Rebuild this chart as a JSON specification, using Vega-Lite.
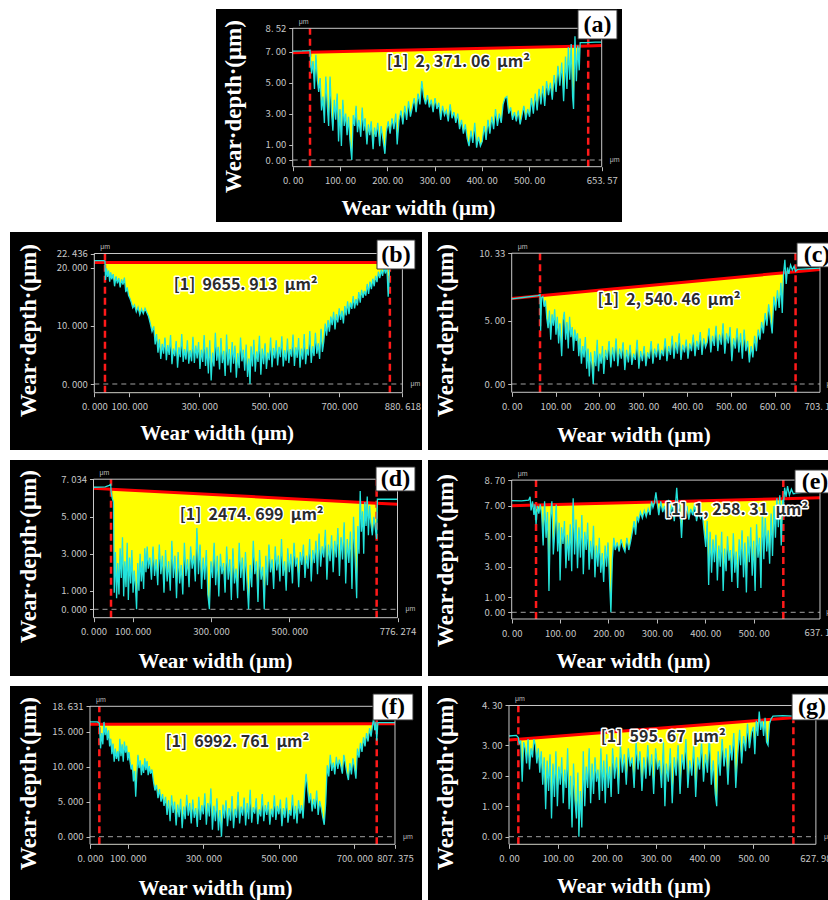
{
"$schema": "https://vega.github.io/schema/vega-lite/v6.json",
"background": "white",
"padding": {"left": 10, "top": 9, "right": 0, "bottom": 0},
"spacing": 10,
"config": {
  "view": {"stroke": null},
  "axis": {"grid": false, "domain": false, "labelColor": "#c8c8c8", "labelFont": "Noto Sans CJK SC", "labelFontSize": 9.5, "labelOverlap": false, "tickColor": "#bdbdbd", "tickSize": 4, "tickWidth": 1, "titleColor": "white", "titleFont": "Liberation Serif", "titleFontWeight": "bold", "titleFontSize": 21, "titleAlign": "center", "titleBaseline": "middle"},
  "axisY": {"labelPadding": 3, "titleAngle": 270, "titleFontSize": 23},
  "axisX": {"labelPadding": 5}
},
"datasets": {
"ra": [{"x":0,"y":6.94,"in":false},{"x":36.6,"y":6.966,"in":true},{"x":625,"y":7.38,"in":true},{"x":653.57,"y":7.4,"in":false}],
"rb": [{"x":0,"y":20.88,"in":false},{"x":30.5,"y":20.88,"in":true},{"x":844.8,"y":20.88,"in":true},{"x":880.618,"y":20.88,"in":false}],
"rc": [{"x":0,"y":6.76,"in":false},{"x":64.6,"y":6.97,"in":true},{"x":647.4,"y":8.869,"in":true},{"x":703.1,"y":9.05,"in":false}],
"rd": [{"x":0,"y":6.54,"in":false},{"x":44.7,"y":6.49,"in":true},{"x":723,"y":5.739,"in":true},{"x":776.274,"y":5.68,"in":false}],
"re": [{"x":0,"y":7.02,"in":false},{"x":50.3,"y":7.061,"in":true},{"x":561.3,"y":7.478,"in":true},{"x":637.1,"y":7.54,"in":false}],
"rf": [{"x":0,"y":16.05,"in":false},{"x":24.7,"y":16.053,"in":true},{"x":759,"y":16.144,"in":true},{"x":807.375,"y":16.15,"in":false}],
"rg": [{"x":0,"y":3.17,"in":false},{"x":19.1,"y":3.194,"in":true},{"x":581.9,"y":3.902,"in":true},{"x":627.98,"y":3.96,"in":false}],
"pa": [{"x":0,"y":7.05},{"x":20,"y":7.06},{"x":34,"y":7.08},{"x":36.6,"y":7.1},{"x":38,"y":6.2},{"x":40,"y":5.6},{"x":43,"y":6.4},{"x":46,"y":4.6},{"x":49,"y":6.8},{"x":52,"y":5.2},{"x":55,"y":4.4},{"x":58,"y":5.3},{"x":61,"y":3.2},{"x":64,"y":4.1},{"x":67,"y":2.4},{"x":70,"y":5.4},{"x":73,"y":3.6},{"x":76,"y":2.2},{"x":79,"y":5.4},{"x":82,"y":3.1},{"x":85,"y":1.9},{"x":88,"y":3.9},{"x":91,"y":2.6},{"x":94,"y":4.3},{"x":97,"y":1.2},{"x":100,"y":3.3},{"x":103,"y":0.9},{"x":106,"y":3.9},{"x":109,"y":2.2},{"x":112,"y":3.0},{"x":115,"y":1.6},{"x":118,"y":2.8},{"x":121,"y":1.3},{"x":125,"y":0.0},{"x":128,"y":2.9},{"x":131,"y":2.2},{"x":134,"y":3.5},{"x":137,"y":1.8},{"x":140,"y":2.6},{"x":144,"y":1.5},{"x":147,"y":3.4},{"x":150,"y":1.9},{"x":153,"y":2.7},{"x":157,"y":1.0},{"x":160,"y":2.3},{"x":163,"y":1.6},{"x":166,"y":2.5},{"x":170,"y":0.7},{"x":173,"y":2.1},{"x":176,"y":1.5},{"x":180,"y":2.4},{"x":184,"y":0.9},{"x":187,"y":2.2},{"x":191,"y":1.3},{"x":195,"y":0.4},{"x":198,"y":1.8},{"x":202,"y":2.5},{"x":206,"y":1.7},{"x":210,"y":2.7},{"x":214,"y":2.0},{"x":218,"y":3.0},{"x":221,"y":1.0},{"x":225,"y":2.6},{"x":229,"y":3.2},{"x":233,"y":2.3},{"x":237,"y":3.5},{"x":241,"y":2.6},{"x":245,"y":3.8},{"x":249,"y":2.8},{"x":253,"y":3.4},{"x":257,"y":4.0},{"x":261,"y":3.1},{"x":265,"y":4.3},{"x":269,"y":3.6},{"x":273,"y":5.1},{"x":277,"y":4.1},{"x":281,"y":3.6},{"x":285,"y":4.2},{"x":289,"y":3.4},{"x":293,"y":3.9},{"x":297,"y":3.1},{"x":301,"y":4.0},{"x":305,"y":3.3},{"x":309,"y":3.7},{"x":313,"y":2.6},{"x":317,"y":3.5},{"x":321,"y":2.9},{"x":325,"y":3.2},{"x":329,"y":2.5},{"x":333,"y":3.6},{"x":337,"y":2.7},{"x":341,"y":3.1},{"x":345,"y":2.4},{"x":349,"y":3.0},{"x":353,"y":2.0},{"x":357,"y":2.6},{"x":361,"y":1.7},{"x":365,"y":2.3},{"x":369,"y":1.4},{"x":373,"y":0.9},{"x":377,"y":1.9},{"x":381,"y":1.1},{"x":385,"y":2.4},{"x":389,"y":0.8},{"x":393,"y":1.5},{"x":397,"y":0.9},{"x":401,"y":1.2},{"x":405,"y":2.2},{"x":409,"y":1.3},{"x":413,"y":2.6},{"x":417,"y":1.7},{"x":421,"y":2.8},{"x":425,"y":2.0},{"x":429,"y":3.3},{"x":433,"y":2.2},{"x":437,"y":3.0},{"x":441,"y":2.4},{"x":445,"y":3.6},{"x":449,"y":4.0},{"x":453,"y":4.1},{"x":457,"y":3.0},{"x":461,"y":3.4},{"x":465,"y":2.6},{"x":469,"y":3.1},{"x":473,"y":2.5},{"x":477,"y":3.2},{"x":481,"y":2.3},{"x":485,"y":2.9},{"x":489,"y":3.5},{"x":493,"y":2.6},{"x":497,"y":3.3},{"x":501,"y":2.8},{"x":505,"y":4.0},{"x":509,"y":3.0},{"x":513,"y":4.3},{"x":517,"y":3.2},{"x":521,"y":4.6},{"x":525,"y":3.6},{"x":529,"y":4.8},{"x":533,"y":3.5},{"x":537,"y":5.1},{"x":541,"y":4.2},{"x":545,"y":5.0},{"x":549,"y":3.9},{"x":553,"y":5.5},{"x":557,"y":4.4},{"x":561,"y":6.1},{"x":565,"y":4.8},{"x":569,"y":6.3},{"x":573,"y":3.8},{"x":577,"y":6.7},{"x":580,"y":4.6},{"x":583,"y":7.3},{"x":586,"y":5.2},{"x":589,"y":7.5},{"x":592,"y":4.1},{"x":594,"y":3.3},{"x":597,"y":8.0},{"x":600,"y":5.1},{"x":603,"y":7.4},{"x":606,"y":5.8},{"x":608,"y":7.6},{"x":620,"y":7.6},{"x":640,"y":7.62},{"x":653.57,"y":7.62}],
"pb": [{"x":0,"y":21.2},{"x":28,"y":21.2},{"x":30.5,"y":21.1},{"x":32,"y":17.9},{"x":35,"y":19.9},{"x":38,"y":18.4},{"x":41,"y":19.5},{"x":44,"y":17.6},{"x":47,"y":19.2},{"x":50,"y":18.0},{"x":54,"y":18.9},{"x":58,"y":16.8},{"x":62,"y":18.5},{"x":66,"y":17.3},{"x":70,"y":18.2},{"x":74,"y":16.6},{"x":78,"y":18.0},{"x":82,"y":17.1},{"x":86,"y":18.3},{"x":90,"y":15.8},{"x":94,"y":16.6},{"x":98,"y":15.2},{"x":102,"y":14.7},{"x":106,"y":14.0},{"x":110,"y":13.1},{"x":115,"y":13.6},{"x":120,"y":12.4},{"x":125,"y":13.2},{"x":130,"y":11.9},{"x":135,"y":12.9},{"x":140,"y":12.1},{"x":145,"y":13.0},{"x":150,"y":12.3},{"x":155,"y":11.6},{"x":160,"y":10.4},{"x":165,"y":9.0},{"x":170,"y":9.9},{"x":174,"y":6.8},{"x":178,"y":8.6},{"x":182,"y":5.4},{"x":186,"y":7.7},{"x":190,"y":4.3},{"x":194,"y":6.9},{"x":198,"y":5.2},{"x":202,"y":8.0},{"x":206,"y":4.1},{"x":210,"y":6.7},{"x":214,"y":5.0},{"x":218,"y":8.4},{"x":222,"y":3.4},{"x":226,"y":6.1},{"x":230,"y":4.8},{"x":234,"y":7.4},{"x":238,"y":2.8},{"x":242,"y":6.3},{"x":246,"y":4.6},{"x":250,"y":8.6},{"x":254,"y":3.8},{"x":258,"y":6.0},{"x":262,"y":4.2},{"x":266,"y":7.5},{"x":270,"y":3.5},{"x":274,"y":5.8},{"x":278,"y":3.9},{"x":282,"y":8.1},{"x":286,"y":3.6},{"x":290,"y":6.6},{"x":294,"y":4.4},{"x":298,"y":7.2},{"x":302,"y":2.6},{"x":306,"y":5.9},{"x":310,"y":3.8},{"x":314,"y":8.4},{"x":318,"y":3.1},{"x":322,"y":6.3},{"x":326,"y":1.8},{"x":330,"y":7.5},{"x":334,"y":0.6},{"x":338,"y":5.4},{"x":342,"y":3.0},{"x":346,"y":8.8},{"x":350,"y":4.0},{"x":354,"y":6.4},{"x":358,"y":2.5},{"x":362,"y":7.9},{"x":366,"y":3.6},{"x":370,"y":5.7},{"x":374,"y":1.4},{"x":378,"y":8.5},{"x":382,"y":3.2},{"x":386,"y":6.0},{"x":390,"y":2.0},{"x":394,"y":7.2},{"x":398,"y":3.5},{"x":402,"y":6.6},{"x":406,"y":1.1},{"x":410,"y":5.3},{"x":414,"y":2.7},{"x":418,"y":8.0},{"x":422,"y":3.9},{"x":426,"y":5.9},{"x":430,"y":2.3},{"x":434,"y":6.8},{"x":438,"y":1.2},{"x":442,"y":4.4},{"x":445,"y":0.0},{"x":448,"y":6.5},{"x":452,"y":3.0},{"x":456,"y":7.6},{"x":460,"y":2.1},{"x":464,"y":5.6},{"x":468,"y":3.8},{"x":472,"y":8.3},{"x":476,"y":1.6},{"x":480,"y":6.1},{"x":484,"y":3.4},{"x":488,"y":7.0},{"x":492,"y":2.6},{"x":496,"y":5.4},{"x":500,"y":4.1},{"x":504,"y":8.0},{"x":508,"y":2.9},{"x":512,"y":6.2},{"x":516,"y":4.4},{"x":520,"y":7.5},{"x":524,"y":3.2},{"x":528,"y":6.4},{"x":532,"y":4.6},{"x":536,"y":8.2},{"x":540,"y":3.0},{"x":544,"y":5.8},{"x":548,"y":4.0},{"x":552,"y":7.8},{"x":556,"y":3.6},{"x":560,"y":6.0},{"x":564,"y":4.7},{"x":568,"y":8.5},{"x":572,"y":3.1},{"x":576,"y":6.3},{"x":580,"y":4.5},{"x":584,"y":7.9},{"x":588,"y":2.8},{"x":592,"y":6.1},{"x":596,"y":4.2},{"x":600,"y":8.6},{"x":604,"y":3.4},{"x":608,"y":6.0},{"x":612,"y":4.9},{"x":616,"y":9.1},{"x":620,"y":3.6},{"x":624,"y":6.5},{"x":628,"y":4.8},{"x":632,"y":8.8},{"x":636,"y":5.2},{"x":640,"y":7.0},{"x":644,"y":4.3},{"x":648,"y":9.5},{"x":652,"y":5.5},{"x":656,"y":7.3},{"x":660,"y":10.4},{"x":664,"y":8.3},{"x":668,"y":11.0},{"x":672,"y":9.0},{"x":676,"y":11.6},{"x":680,"y":10.1},{"x":684,"y":12.4},{"x":688,"y":9.4},{"x":692,"y":12.0},{"x":696,"y":10.6},{"x":700,"y":13.0},{"x":704,"y":11.0},{"x":708,"y":12.6},{"x":712,"y":10.4},{"x":716,"y":13.4},{"x":720,"y":11.8},{"x":724,"y":14.2},{"x":728,"y":12.0},{"x":732,"y":14.0},{"x":736,"y":12.9},{"x":740,"y":15.1},{"x":744,"y":13.0},{"x":748,"y":14.6},{"x":752,"y":13.5},{"x":756,"y":15.8},{"x":760,"y":14.0},{"x":764,"y":16.2},{"x":768,"y":14.8},{"x":772,"y":16.0},{"x":776,"y":15.2},{"x":780,"y":17.2},{"x":784,"y":15.5},{"x":788,"y":17.6},{"x":792,"y":16.3},{"x":796,"y":18.1},{"x":800,"y":16.8},{"x":804,"y":18.6},{"x":808,"y":17.5},{"x":812,"y":19.3},{"x":816,"y":18.2},{"x":820,"y":19.6},{"x":824,"y":18.6},{"x":828,"y":20.1},{"x":832,"y":19.0},{"x":836,"y":20.4},{"x":840,"y":15.0},{"x":844,"y":19.8},{"x":848,"y":20.5},{"x":880.618,"y":20.6}],
"pc": [{"x":0,"y":6.72},{"x":30,"y":6.85},{"x":60,"y":6.98},{"x":64.6,"y":7.05},{"x":66,"y":4.2},{"x":68,"y":6.8},{"x":71,"y":6.9},{"x":74,"y":6.1},{"x":77,"y":6.6},{"x":80,"y":5.2},{"x":83,"y":4.4},{"x":86,"y":5.8},{"x":89,"y":3.5},{"x":92,"y":5.5},{"x":95,"y":4.6},{"x":98,"y":5.9},{"x":101,"y":3.9},{"x":104,"y":5.3},{"x":107,"y":3.2},{"x":110,"y":4.8},{"x":114,"y":2.2},{"x":117,"y":5.0},{"x":120,"y":5.7},{"x":123,"y":3.5},{"x":126,"y":4.9},{"x":129,"y":2.8},{"x":132,"y":5.3},{"x":135,"y":3.7},{"x":138,"y":4.5},{"x":141,"y":2.6},{"x":144,"y":4.3},{"x":147,"y":3.4},{"x":150,"y":4.0},{"x":153,"y":2.2},{"x":156,"y":3.6},{"x":159,"y":1.6},{"x":162,"y":3.0},{"x":165,"y":2.1},{"x":168,"y":3.7},{"x":171,"y":1.2},{"x":174,"y":2.8},{"x":177,"y":0.6},{"x":180,"y":2.5},{"x":183,"y":1.5},{"x":186,"y":0.0},{"x":189,"y":2.6},{"x":192,"y":1.4},{"x":195,"y":3.5},{"x":198,"y":1.0},{"x":201,"y":2.4},{"x":204,"y":1.6},{"x":207,"y":3.0},{"x":210,"y":0.8},{"x":214,"y":2.7},{"x":218,"y":1.9},{"x":222,"y":3.4},{"x":226,"y":1.3},{"x":230,"y":2.9},{"x":234,"y":1.8},{"x":238,"y":3.6},{"x":242,"y":1.4},{"x":246,"y":2.8},{"x":250,"y":2.0},{"x":254,"y":3.3},{"x":258,"y":1.1},{"x":262,"y":2.7},{"x":266,"y":1.7},{"x":270,"y":3.1},{"x":274,"y":1.5},{"x":278,"y":2.4},{"x":282,"y":1.9},{"x":286,"y":3.5},{"x":290,"y":1.2},{"x":294,"y":2.6},{"x":298,"y":1.8},{"x":302,"y":3.0},{"x":306,"y":1.4},{"x":310,"y":2.5},{"x":314,"y":2.0},{"x":318,"y":3.4},{"x":322,"y":1.6},{"x":326,"y":2.8},{"x":330,"y":2.1},{"x":334,"y":3.2},{"x":338,"y":1.9},{"x":342,"y":2.7},{"x":346,"y":2.2},{"x":350,"y":3.6},{"x":354,"y":1.8},{"x":358,"y":3.0},{"x":362,"y":2.3},{"x":366,"y":3.8},{"x":370,"y":2.0},{"x":374,"y":3.3},{"x":378,"y":2.4},{"x":382,"y":4.0},{"x":386,"y":1.9},{"x":390,"y":3.1},{"x":394,"y":2.5},{"x":398,"y":3.5},{"x":402,"y":2.0},{"x":406,"y":3.2},{"x":410,"y":2.6},{"x":414,"y":3.9},{"x":418,"y":2.2},{"x":422,"y":3.4},{"x":426,"y":2.7},{"x":430,"y":4.1},{"x":434,"y":2.3},{"x":438,"y":3.6},{"x":442,"y":2.9},{"x":446,"y":3.3},{"x":450,"y":4.4},{"x":454,"y":2.5},{"x":458,"y":3.8},{"x":462,"y":3.0},{"x":466,"y":4.6},{"x":470,"y":2.6},{"x":474,"y":3.9},{"x":478,"y":3.1},{"x":482,"y":4.8},{"x":486,"y":2.4},{"x":490,"y":4.0},{"x":494,"y":3.2},{"x":498,"y":4.5},{"x":502,"y":1.8},{"x":506,"y":3.6},{"x":510,"y":2.8},{"x":514,"y":4.4},{"x":518,"y":2.5},{"x":522,"y":4.0},{"x":526,"y":2.0},{"x":530,"y":4.3},{"x":534,"y":2.6},{"x":538,"y":3.4},{"x":542,"y":1.7},{"x":546,"y":3.0},{"x":550,"y":2.1},{"x":554,"y":3.8},{"x":558,"y":2.6},{"x":562,"y":4.3},{"x":566,"y":3.5},{"x":570,"y":4.9},{"x":574,"y":4.0},{"x":578,"y":5.6},{"x":582,"y":4.6},{"x":586,"y":6.3},{"x":590,"y":5.1},{"x":594,"y":4.0},{"x":598,"y":6.9},{"x":602,"y":5.8},{"x":606,"y":7.4},{"x":610,"y":6.0},{"x":614,"y":8.0},{"x":617,"y":5.6},{"x":620,"y":8.7},{"x":623,"y":9.8},{"x":626,"y":7.9},{"x":629,"y":9.2},{"x":632,"y":8.7},{"x":636,"y":9.4},{"x":640,"y":9.0},{"x":644,"y":9.3},{"x":647.4,"y":8.9},{"x":652,"y":9.05},{"x":703.1,"y":9.15}],
"pd": [{"x":0,"y":6.6},{"x":30,"y":6.62},{"x":40,"y":6.7},{"x":44,"y":6.75},{"x":45,"y":6.35},{"x":48,"y":6.0},{"x":51,"y":5.8},{"x":53,"y":0.9},{"x":56,"y":3.1},{"x":59,"y":0.6},{"x":62,"y":2.5},{"x":65,"y":0.8},{"x":68,"y":3.3},{"x":71,"y":1.7},{"x":74,"y":3.9},{"x":77,"y":0.7},{"x":80,"y":2.6},{"x":83,"y":1.2},{"x":86,"y":3.6},{"x":89,"y":0.5},{"x":92,"y":2.8},{"x":95,"y":1.4},{"x":98,"y":3.2},{"x":101,"y":0.9},{"x":104,"y":2.1},{"x":107,"y":1.3},{"x":110,"y":0.0},{"x":113,"y":2.5},{"x":116,"y":1.0},{"x":119,"y":3.0},{"x":122,"y":1.5},{"x":125,"y":2.6},{"x":128,"y":1.1},{"x":131,"y":3.3},{"x":134,"y":2.0},{"x":137,"y":3.4},{"x":140,"y":2.2},{"x":144,"y":2.8},{"x":148,"y":1.6},{"x":152,"y":3.4},{"x":156,"y":1.8},{"x":160,"y":2.7},{"x":164,"y":1.3},{"x":168,"y":3.5},{"x":172,"y":1.9},{"x":176,"y":2.9},{"x":180,"y":0.9},{"x":184,"y":3.2},{"x":188,"y":1.5},{"x":192,"y":2.6},{"x":196,"y":1.0},{"x":200,"y":3.7},{"x":204,"y":1.7},{"x":208,"y":2.9},{"x":212,"y":0.6},{"x":216,"y":3.1},{"x":220,"y":1.4},{"x":224,"y":2.4},{"x":228,"y":0.8},{"x":232,"y":3.6},{"x":236,"y":1.8},{"x":240,"y":2.7},{"x":244,"y":1.2},{"x":248,"y":3.4},{"x":252,"y":2.2},{"x":256,"y":2.9},{"x":260,"y":1.5},{"x":264,"y":4.4},{"x":268,"y":1.9},{"x":272,"y":3.5},{"x":276,"y":1.1},{"x":280,"y":2.8},{"x":284,"y":1.6},{"x":288,"y":3.2},{"x":292,"y":0.8},{"x":296,"y":0.0},{"x":300,"y":2.6},{"x":304,"y":1.7},{"x":308,"y":3.6},{"x":312,"y":1.3},{"x":316,"y":2.9},{"x":320,"y":0.7},{"x":324,"y":3.0},{"x":328,"y":1.9},{"x":332,"y":2.5},{"x":336,"y":0.9},{"x":340,"y":3.4},{"x":344,"y":1.6},{"x":348,"y":2.7},{"x":352,"y":0.5},{"x":356,"y":3.3},{"x":360,"y":1.4},{"x":364,"y":2.2},{"x":368,"y":0.6},{"x":372,"y":3.6},{"x":376,"y":1.7},{"x":380,"y":2.8},{"x":384,"y":1.0},{"x":388,"y":3.1},{"x":392,"y":1.5},{"x":396,"y":0.0},{"x":400,"y":2.4},{"x":404,"y":1.2},{"x":408,"y":3.7},{"x":412,"y":1.9},{"x":416,"y":2.6},{"x":420,"y":0.4},{"x":424,"y":3.2},{"x":428,"y":1.6},{"x":432,"y":2.3},{"x":436,"y":0.0},{"x":440,"y":2.9},{"x":444,"y":1.3},{"x":448,"y":3.5},{"x":452,"y":2.0},{"x":456,"y":2.7},{"x":460,"y":1.1},{"x":464,"y":3.4},{"x":468,"y":2.1},{"x":472,"y":2.9},{"x":476,"y":1.5},{"x":480,"y":3.8},{"x":484,"y":1.8},{"x":488,"y":2.6},{"x":492,"y":1.0},{"x":496,"y":3.3},{"x":500,"y":2.0},{"x":504,"y":3.0},{"x":508,"y":1.4},{"x":512,"y":3.6},{"x":516,"y":2.3},{"x":520,"y":2.8},{"x":524,"y":1.2},{"x":528,"y":3.1},{"x":532,"y":2.4},{"x":536,"y":3.5},{"x":540,"y":1.7},{"x":544,"y":2.9},{"x":548,"y":2.2},{"x":552,"y":3.8},{"x":556,"y":1.5},{"x":560,"y":3.2},{"x":564,"y":2.5},{"x":568,"y":3.7},{"x":572,"y":1.9},{"x":576,"y":4.1},{"x":580,"y":2.3},{"x":584,"y":3.4},{"x":588,"y":2.8},{"x":592,"y":4.3},{"x":596,"y":1.6},{"x":600,"y":3.5},{"x":604,"y":2.6},{"x":608,"y":4.0},{"x":612,"y":2.0},{"x":616,"y":3.7},{"x":620,"y":2.8},{"x":624,"y":4.4},{"x":628,"y":1.8},{"x":632,"y":3.9},{"x":636,"y":2.7},{"x":640,"y":4.7},{"x":644,"y":1.4},{"x":648,"y":3.8},{"x":652,"y":2.5},{"x":656,"y":4.2},{"x":660,"y":1.1},{"x":664,"y":5.0},{"x":668,"y":2.8},{"x":672,"y":0.6},{"x":675,"y":4.5},{"x":678,"y":3.0},{"x":681,"y":6.4},{"x":684,"y":4.2},{"x":687,"y":5.3},{"x":690,"y":3.0},{"x":693,"y":5.8},{"x":696,"y":4.5},{"x":699,"y":6.1},{"x":702,"y":4.0},{"x":705,"y":5.6},{"x":708,"y":4.7},{"x":712,"y":4.0},{"x":716,"y":5.0},{"x":720,"y":4.3},{"x":723,"y":3.8},{"x":725,"y":5.95},{"x":750,"y":5.95},{"x":776.274,"y":5.95}],
"pe": [{"x":0,"y":7.35},{"x":20,"y":7.33},{"x":35,"y":7.38},{"x":38,"y":7.6},{"x":40,"y":6.7},{"x":43,"y":7.3},{"x":46,"y":6.4},{"x":48,"y":7.1},{"x":50.3,"y":5.8},{"x":53,"y":7.0},{"x":56,"y":6.5},{"x":59,"y":7.1},{"x":62,"y":6.4},{"x":65,"y":4.4},{"x":68,"y":7.3},{"x":71,"y":4.9},{"x":74,"y":6.6},{"x":77,"y":1.4},{"x":80,"y":6.1},{"x":83,"y":7.3},{"x":86,"y":3.8},{"x":89,"y":5.3},{"x":92,"y":7.1},{"x":95,"y":4.0},{"x":98,"y":5.9},{"x":100,"y":2.1},{"x":103,"y":5.6},{"x":106,"y":4.5},{"x":109,"y":6.0},{"x":112,"y":2.9},{"x":115,"y":5.1},{"x":118,"y":3.4},{"x":121,"y":5.8},{"x":124,"y":2.7},{"x":127,"y":7.5},{"x":130,"y":3.8},{"x":133,"y":6.1},{"x":136,"y":2.9},{"x":139,"y":5.6},{"x":142,"y":3.6},{"x":145,"y":6.4},{"x":148,"y":2.5},{"x":151,"y":5.3},{"x":154,"y":4.1},{"x":157,"y":5.9},{"x":160,"y":2.8},{"x":163,"y":4.7},{"x":166,"y":3.5},{"x":169,"y":5.7},{"x":172,"y":2.3},{"x":175,"y":4.4},{"x":178,"y":3.0},{"x":181,"y":4.9},{"x":184,"y":2.6},{"x":187,"y":3.9},{"x":190,"y":2.0},{"x":193,"y":4.4},{"x":196,"y":3.0},{"x":199,"y":4.6},{"x":202,"y":2.2},{"x":205,"y":0.0},{"x":208,"y":3.5},{"x":211,"y":4.9},{"x":214,"y":4.1},{"x":218,"y":4.6},{"x":222,"y":4.0},{"x":226,"y":4.8},{"x":230,"y":4.3},{"x":234,"y":4.0},{"x":238,"y":4.9},{"x":242,"y":4.1},{"x":246,"y":4.7},{"x":250,"y":5.4},{"x":253,"y":6.0},{"x":256,"y":5.1},{"x":259,"y":6.3},{"x":262,"y":6.0},{"x":266,"y":6.6},{"x":270,"y":6.2},{"x":274,"y":6.7},{"x":278,"y":6.3},{"x":282,"y":6.8},{"x":286,"y":6.4},{"x":289,"y":7.3},{"x":292,"y":6.9},{"x":295,"y":7.2},{"x":298,"y":7.9},{"x":301,"y":7.1},{"x":304,"y":6.4},{"x":308,"y":7.3},{"x":312,"y":6.6},{"x":316,"y":7.0},{"x":320,"y":6.1},{"x":324,"y":7.4},{"x":328,"y":6.5},{"x":332,"y":7.2},{"x":336,"y":6.0},{"x":339,"y":7.3},{"x":341,"y":8.2},{"x":344,"y":6.8},{"x":347,"y":7.1},{"x":351,"y":4.9},{"x":354,"y":6.9},{"x":358,"y":6.3},{"x":362,"y":7.0},{"x":366,"y":6.1},{"x":370,"y":6.8},{"x":374,"y":6.4},{"x":378,"y":7.1},{"x":382,"y":6.0},{"x":386,"y":6.7},{"x":390,"y":6.2},{"x":394,"y":6.5},{"x":398,"y":5.2},{"x":401,"y":4.3},{"x":404,"y":6.0},{"x":407,"y":1.8},{"x":410,"y":5.3},{"x":413,"y":2.6},{"x":416,"y":4.8},{"x":419,"y":3.3},{"x":422,"y":5.1},{"x":425,"y":2.1},{"x":428,"y":4.4},{"x":431,"y":3.0},{"x":434,"y":5.3},{"x":437,"y":1.4},{"x":440,"y":4.2},{"x":443,"y":2.7},{"x":446,"y":5.0},{"x":449,"y":3.4},{"x":452,"y":4.1},{"x":455,"y":2.0},{"x":458,"y":5.2},{"x":461,"y":2.6},{"x":464,"y":4.0},{"x":467,"y":1.6},{"x":470,"y":4.8},{"x":473,"y":3.1},{"x":476,"y":5.4},{"x":479,"y":2.3},{"x":482,"y":4.6},{"x":485,"y":1.3},{"x":488,"y":5.0},{"x":491,"y":3.3},{"x":494,"y":5.6},{"x":497,"y":2.4},{"x":500,"y":4.7},{"x":503,"y":1.4},{"x":506,"y":5.8},{"x":509,"y":3.6},{"x":512,"y":4.9},{"x":515,"y":1.6},{"x":518,"y":6.8},{"x":521,"y":3.5},{"x":524,"y":6.2},{"x":527,"y":4.0},{"x":530,"y":5.4},{"x":533,"y":3.2},{"x":536,"y":6.5},{"x":539,"y":3.7},{"x":542,"y":7.0},{"x":545,"y":4.9},{"x":548,"y":7.5},{"x":551,"y":5.6},{"x":554,"y":7.7},{"x":557,"y":4.4},{"x":560,"y":7.4},{"x":561.3,"y":6.9},{"x":564,"y":8.2},{"x":567,"y":7.6},{"x":570,"y":8.3},{"x":574,"y":7.7},{"x":578,"y":8.1},{"x":582,"y":7.8},{"x":600,"y":7.9}],
"pf": [{"x":0,"y":16.4},{"x":20,"y":16.4},{"x":24.7,"y":16.2},{"x":26,"y":15.0},{"x":28,"y":12.6},{"x":31,"y":14.8},{"x":34,"y":13.2},{"x":37,"y":16.4},{"x":40,"y":14.5},{"x":43,"y":15.6},{"x":46,"y":13.8},{"x":49,"y":15.2},{"x":52,"y":12.9},{"x":55,"y":14.0},{"x":58,"y":11.8},{"x":61,"y":13.3},{"x":64,"y":10.7},{"x":67,"y":12.6},{"x":70,"y":11.1},{"x":73,"y":12.2},{"x":76,"y":10.8},{"x":79,"y":14.0},{"x":82,"y":11.5},{"x":85,"y":13.2},{"x":88,"y":10.7},{"x":91,"y":13.6},{"x":94,"y":12.0},{"x":97,"y":13.0},{"x":100,"y":10.9},{"x":103,"y":12.1},{"x":106,"y":10.7},{"x":109,"y":9.6},{"x":112,"y":10.3},{"x":115,"y":7.9},{"x":118,"y":9.4},{"x":121,"y":5.7},{"x":124,"y":9.0},{"x":127,"y":11.7},{"x":130,"y":9.8},{"x":133,"y":10.9},{"x":136,"y":8.8},{"x":139,"y":10.3},{"x":142,"y":9.1},{"x":145,"y":11.2},{"x":148,"y":9.5},{"x":151,"y":10.8},{"x":154,"y":8.8},{"x":157,"y":10.1},{"x":160,"y":9.0},{"x":164,"y":9.6},{"x":168,"y":7.9},{"x":172,"y":6.6},{"x":176,"y":7.4},{"x":180,"y":5.5},{"x":184,"y":6.8},{"x":188,"y":5.0},{"x":192,"y":6.1},{"x":196,"y":4.4},{"x":200,"y":5.7},{"x":204,"y":3.1},{"x":208,"y":5.2},{"x":212,"y":2.2},{"x":216,"y":5.9},{"x":220,"y":3.4},{"x":224,"y":5.0},{"x":228,"y":1.6},{"x":232,"y":4.6},{"x":236,"y":2.8},{"x":240,"y":5.4},{"x":244,"y":1.2},{"x":248,"y":4.3},{"x":252,"y":2.5},{"x":256,"y":6.0},{"x":260,"y":3.0},{"x":264,"y":4.8},{"x":268,"y":1.9},{"x":272,"y":5.3},{"x":276,"y":2.7},{"x":280,"y":4.1},{"x":284,"y":1.4},{"x":288,"y":5.7},{"x":292,"y":2.4},{"x":296,"y":4.5},{"x":300,"y":3.2},{"x":304,"y":6.2},{"x":308,"y":1.7},{"x":312,"y":4.8},{"x":316,"y":2.9},{"x":320,"y":6.9},{"x":324,"y":1.0},{"x":328,"y":4.4},{"x":332,"y":2.2},{"x":336,"y":5.5},{"x":340,"y":0.9},{"x":344,"y":3.8},{"x":348,"y":0.0},{"x":352,"y":4.6},{"x":356,"y":2.6},{"x":360,"y":5.2},{"x":364,"y":1.5},{"x":368,"y":4.1},{"x":372,"y":2.3},{"x":376,"y":5.8},{"x":380,"y":1.2},{"x":384,"y":4.0},{"x":388,"y":2.7},{"x":392,"y":6.4},{"x":396,"y":1.9},{"x":400,"y":4.3},{"x":404,"y":3.0},{"x":408,"y":5.6},{"x":412,"y":1.6},{"x":416,"y":4.8},{"x":420,"y":2.5},{"x":424,"y":6.7},{"x":428,"y":2.0},{"x":432,"y":4.2},{"x":436,"y":3.3},{"x":440,"y":5.5},{"x":444,"y":1.8},{"x":448,"y":3.9},{"x":452,"y":2.9},{"x":456,"y":6.1},{"x":460,"y":2.2},{"x":464,"y":4.5},{"x":468,"y":3.1},{"x":472,"y":5.0},{"x":476,"y":1.7},{"x":480,"y":4.0},{"x":484,"y":2.8},{"x":488,"y":5.9},{"x":492,"y":2.4},{"x":496,"y":4.4},{"x":500,"y":3.2},{"x":504,"y":5.3},{"x":508,"y":1.5},{"x":512,"y":4.1},{"x":516,"y":2.7},{"x":520,"y":5.6},{"x":524,"y":2.0},{"x":528,"y":3.8},{"x":532,"y":3.0},{"x":536,"y":6.0},{"x":540,"y":2.5},{"x":544,"y":4.4},{"x":548,"y":1.9},{"x":552,"y":5.2},{"x":556,"y":3.3},{"x":560,"y":4.5},{"x":564,"y":2.6},{"x":568,"y":6.3},{"x":572,"y":9.0},{"x":576,"y":6.9},{"x":580,"y":4.8},{"x":584,"y":6.2},{"x":588,"y":3.6},{"x":592,"y":5.4},{"x":596,"y":4.0},{"x":600,"y":6.6},{"x":604,"y":3.1},{"x":608,"y":5.1},{"x":612,"y":4.1},{"x":616,"y":2.8},{"x":620,"y":1.7},{"x":624,"y":4.9},{"x":628,"y":10.2},{"x":632,"y":8.6},{"x":636,"y":11.7},{"x":640,"y":9.4},{"x":644,"y":10.6},{"x":648,"y":8.9},{"x":652,"y":11.4},{"x":656,"y":9.7},{"x":660,"y":11.0},{"x":664,"y":10.1},{"x":668,"y":9.0},{"x":672,"y":11.7},{"x":676,"y":10.4},{"x":680,"y":9.1},{"x":684,"y":8.1},{"x":688,"y":10.5},{"x":692,"y":8.9},{"x":696,"y":11.2},{"x":700,"y":9.8},{"x":704,"y":8.3},{"x":708,"y":12.6},{"x":712,"y":11.3},{"x":716,"y":13.4},{"x":720,"y":12.1},{"x":724,"y":14.2},{"x":728,"y":12.9},{"x":732,"y":14.8},{"x":736,"y":13.6},{"x":740,"y":15.5},{"x":744,"y":14.3},{"x":748,"y":16.0},{"x":751,"y":16.9},{"x":754,"y":15.2},{"x":757,"y":16.4},{"x":759,"y":13.7},{"x":762,"y":16.3},{"x":807.375,"y":16.3}],
"pg": [{"x":0,"y":3.3},{"x":15,"y":3.32},{"x":19.1,"y":3.25},{"x":21,"y":3.05},{"x":24,"y":3.15},{"x":27,"y":1.8},{"x":30,"y":3.1},{"x":33,"y":2.9},{"x":36,"y":2.4},{"x":39,"y":3.2},{"x":42,"y":2.2},{"x":45,"y":2.9},{"x":48,"y":2.6},{"x":51,"y":3.2},{"x":54,"y":3.0},{"x":57,"y":2.4},{"x":60,"y":2.9},{"x":63,"y":2.1},{"x":66,"y":2.8},{"x":69,"y":1.7},{"x":72,"y":2.6},{"x":75,"y":0.9},{"x":78,"y":2.5},{"x":81,"y":1.5},{"x":84,"y":2.7},{"x":87,"y":0.6},{"x":90,"y":2.4},{"x":93,"y":1.3},{"x":96,"y":2.8},{"x":99,"y":1.0},{"x":102,"y":2.3},{"x":105,"y":1.7},{"x":108,"y":2.6},{"x":111,"y":1.1},{"x":114,"y":2.2},{"x":117,"y":1.6},{"x":120,"y":2.9},{"x":123,"y":0.9},{"x":126,"y":2.0},{"x":129,"y":0.3},{"x":132,"y":2.4},{"x":135,"y":1.2},{"x":138,"y":0.6},{"x":141,"y":2.1},{"x":143,"y":0.0},{"x":146,"y":1.5},{"x":149,"y":0.3},{"x":152,"y":2.8},{"x":155,"y":1.0},{"x":158,"y":2.3},{"x":161,"y":1.6},{"x":164,"y":2.9},{"x":167,"y":1.1},{"x":170,"y":2.4},{"x":173,"y":1.4},{"x":176,"y":2.6},{"x":179,"y":1.8},{"x":182,"y":2.2},{"x":185,"y":1.2},{"x":188,"y":2.9},{"x":191,"y":1.5},{"x":194,"y":2.5},{"x":197,"y":1.1},{"x":200,"y":2.7},{"x":203,"y":1.6},{"x":206,"y":2.3},{"x":209,"y":1.3},{"x":212,"y":2.9},{"x":216,"y":1.9},{"x":220,"y":2.6},{"x":224,"y":1.4},{"x":228,"y":3.0},{"x":232,"y":2.1},{"x":236,"y":2.7},{"x":240,"y":1.7},{"x":244,"y":2.9},{"x":248,"y":2.3},{"x":252,"y":2.6},{"x":256,"y":1.6},{"x":260,"y":3.1},{"x":264,"y":2.2},{"x":268,"y":2.8},{"x":272,"y":1.5},{"x":276,"y":2.6},{"x":280,"y":1.9},{"x":284,"y":3.0},{"x":288,"y":2.0},{"x":292,"y":2.7},{"x":296,"y":1.4},{"x":300,"y":2.9},{"x":304,"y":2.2},{"x":308,"y":2.5},{"x":312,"y":1.6},{"x":316,"y":3.1},{"x":319,"y":1.0},{"x":322,"y":2.4},{"x":326,"y":1.8},{"x":330,"y":2.9},{"x":334,"y":1.1},{"x":338,"y":2.6},{"x":342,"y":2.0},{"x":346,"y":3.0},{"x":350,"y":1.4},{"x":354,"y":2.7},{"x":358,"y":2.2},{"x":362,"y":3.2},{"x":366,"y":1.6},{"x":370,"y":2.5},{"x":374,"y":2.0},{"x":378,"y":3.0},{"x":382,"y":1.3},{"x":386,"y":2.6},{"x":390,"y":2.2},{"x":394,"y":3.1},{"x":398,"y":1.8},{"x":402,"y":2.7},{"x":406,"y":2.1},{"x":410,"y":3.3},{"x":414,"y":1.7},{"x":418,"y":2.5},{"x":422,"y":1.4},{"x":425,"y":1.0},{"x":428,"y":2.8},{"x":432,"y":2.0},{"x":436,"y":3.2},{"x":440,"y":2.3},{"x":444,"y":2.9},{"x":448,"y":1.7},{"x":452,"y":3.0},{"x":456,"y":2.5},{"x":460,"y":3.4},{"x":464,"y":1.6},{"x":468,"y":2.7},{"x":472,"y":3.5},{"x":476,"y":2.4},{"x":480,"y":3.3},{"x":484,"y":2.8},{"x":488,"y":3.7},{"x":492,"y":2.9},{"x":496,"y":3.4},{"x":500,"y":3.6},{"x":503,"y":2.7},{"x":506,"y":3.8},{"x":509,"y":3.3},{"x":512,"y":4.1},{"x":515,"y":3.5},{"x":518,"y":3.8},{"x":521,"y":3.3},{"x":524,"y":3.9},{"x":527,"y":3.1},{"x":530,"y":3.0},{"x":533,"y":3.7},{"x":536,"y":3.85},{"x":540,"y":3.95},{"x":560,"y":3.97},{"x":581.9,"y":3.95},{"x":600,"y":3.96},{"x":627.98,"y":3.96}]
},
"vconcat": [
{"hconcat": [
  {"width": 196, "height": 213, "data": {"values": []}, "mark": "point", "view": {"stroke": null}},
  {"width": 406, "height": 213, "view": {"fill": "black", "stroke": null},
   "layer": [
    {"data": {"name": "ra"}, "transform": [{"filter": "datum.in"}], "mark": {"type": "area", "color": "#ffff00"},
     "encoding": {"x": {"field": "x", "type": "quantitative", "scale": {"domain": [-162.23, 696.5], "nice": false, "zero": false}, "axis": {"values": [0,100,200,300,400,500,653.57], "offset": -55.3, "labelExpr": "replace(format(datum.value,'.2f'),'.','. ')", "title": "Wear width (μm)", "titleX": 202, "titleY": 41.3}},
      "y": {"field": "y", "type": "quantitative", "scale": {"domain": [-4.011, 9.769], "nice": false, "zero": false}, "axis": {"values": [0,1,3,5,7,8.52], "offset": -76.7, "labelExpr": "replace(format(datum.value,'.2f'),'.','. ')", "title": "Wear·depth·(μm)", "titleX": -59.7, "titleY": 97}},
      "y2": {"datum": -0.433}}},
    {"data": {"name": "pa"}, "mark": {"type": "area", "color": "black"}, "encoding": {"x": {"field": "x", "type": "quantitative"}, "y": {"field": "y", "type": "quantitative"}, "y2": {"datum": -0.433}}},
    {"data": {"values": [{}]}, "mark": {"type": "rule", "color": "#a0a0a0", "strokeDash": [5,4], "strokeWidth": 1}, "encoding": {"x": {"datum": 0}, "x2": {"datum": 653.57}, "y": {"datum": 0}}},
    {"data": {"name": "ra"}, "transform": [{"filter": "datum.in"}], "mark": {"type": "rule", "color": "#ff1a1a", "strokeWidth": 2.5, "strokeDash": [7,4]}, "encoding": {"x": {"field": "x", "type": "quantitative"}, "y": {"datum": -0.433}, "y2": {"datum": 8.52}}},
    {"data": {"name": "ra"}, "mark": {"type": "line", "color": "#ff0000", "strokeWidth": 3}, "encoding": {"x": {"field": "x", "type": "quantitative"}, "y": {"field": "y", "type": "quantitative"}}},
    {"data": {"name": "pa"}, "mark": {"type": "line", "color": "#22e3dc", "strokeWidth": 1.3}, "encoding": {"x": {"field": "x", "type": "quantitative"}, "y": {"field": "y", "type": "quantitative"}}},
    {"data": {"values": [{}]}, "mark": {"type": "rect", "filled": false, "stroke": "#c8c8c8", "strokeWidth": 1}, "encoding": {"x": {"datum": 0}, "x2": {"datum": 653.57}, "y": {"datum": -0.433}, "y2": {"datum": 8.52}}},
    {"data": {"values": [{}]}, "mark": {"type": "text", "font": "Noto Sans CJK SC", "fontWeight": "bold", "fontSize": 16, "fill": "white", "stroke": "white", "strokeWidth": 3, "strokeJoin": "round"}, "encoding": {"x": {"datum": 350.3}, "y": {"datum": 6.36}, "text": {"value": "[1]\u00a0\u00a02, 371. 06\u00a0\u00a0μm²"}}},
    {"data": {"values": [{}]}, "mark": {"type": "text", "font": "Noto Sans CJK SC", "fontWeight": "bold", "fontSize": 16, "fill": "#2b2b2b"}, "encoding": {"x": {"datum": 350.3}, "y": {"datum": 6.36}, "text": {"value": "[1]\u00a0\u00a02, 371. 06\u00a0\u00a0μm²"}}},
    {"data": {"values": [{}]}, "mark": {"type": "text", "fontSize": 7, "fill": "#bbbbbb", "align": "left", "clip": true}, "encoding": {"x": {"datum": 12.7}, "y": {"datum": 8.91}, "text": {"value": "μm"}}},
    {"data": {"values": [{}]}, "mark": {"type": "text", "fontSize": 7, "fill": "#bbbbbb", "align": "left", "clip": true}, "encoding": {"x": {"datum": 670.5}, "y": {"datum": 0}, "text": {"value": "μm"}}},
    {"data": {"values": [{}]}, "mark": {"type": "rect", "fill": "white", "stroke": "#333333", "strokeWidth": 1, "clip": true}, "encoding": {"x": {"datum": 603.4}, "x2": {"datum": 685.9}, "y": {"datum": 7.828}, "y2": {"datum": 9.704}}},
    {"data": {"values": [{}]}, "mark": {"type": "text", "font": "Liberation Serif", "fontWeight": "bold", "fontSize": 24, "fill": "black", "clip": true}, "encoding": {"x": {"datum": 644.7}, "y": {"datum": 8.733}, "text": {"value": "(a)"}}}
   ]}
 ], "spacing": 10, "bounds": "flush"},
{"hconcat": [
  {"width": 412, "height": 218, "view": {"fill": "black", "stroke": null},
   "layer": [
    {"data": {"name": "rb"}, "transform": [{"filter": "datum.in"}], "mark": {"type": "area", "color": "#ffff00"},
     "encoding": {"x": {"field": "x", "type": "quantitative", "scale": {"domain": [-240.95, 936.64], "nice": false, "zero": false}, "axis": {"values": [0,100,300,500,700,880.618], "offset": -57.3, "labelExpr": "replace(format(datum.value,'.3f'),'.','. ')", "title": "Wear width (μm)", "titleX": 206.7, "titleY": 40.3}},
      "y": {"field": "y", "type": "quantitative", "scale": {"domain": [-11.347, 26.133], "nice": false, "zero": false}, "axis": {"values": [0,10,20,22.436], "offset": -84.3, "labelExpr": "replace(format(datum.value,'.3f'),'.','. ')", "title": "Wear·depth·(μm)", "titleX": -66.3, "titleY": 98}},
      "y2": {"datum": -1.496}}},
    {"data": {"name": "pb"}, "mark": {"type": "area", "color": "black"}, "encoding": {"x": {"field": "x", "type": "quantitative"}, "y": {"field": "y", "type": "quantitative"}, "y2": {"datum": -1.496}}},
    {"data": {"values": [{}]}, "mark": {"type": "rule", "color": "#a0a0a0", "strokeDash": [5,4], "strokeWidth": 1}, "encoding": {"x": {"datum": 0}, "x2": {"datum": 880.618}, "y": {"datum": 0}}},
    {"data": {"name": "rb"}, "transform": [{"filter": "datum.in"}], "mark": {"type": "rule", "color": "#ff1a1a", "strokeWidth": 2.5, "strokeDash": [7,4]}, "encoding": {"x": {"field": "x", "type": "quantitative"}, "y": {"datum": -1.496}, "y2": {"datum": 22.436}}},
    {"data": {"name": "rb"}, "mark": {"type": "line", "color": "#ff0000", "strokeWidth": 3}, "encoding": {"x": {"field": "x", "type": "quantitative"}, "y": {"field": "y", "type": "quantitative"}}},
    {"data": {"name": "pb"}, "mark": {"type": "line", "color": "#22e3dc", "strokeWidth": 1.3}, "encoding": {"x": {"field": "x", "type": "quantitative"}, "y": {"field": "y", "type": "quantitative"}}},
    {"data": {"values": [{}]}, "mark": {"type": "rect", "filled": false, "stroke": "#c8c8c8", "strokeWidth": 1}, "encoding": {"x": {"datum": 0}, "x2": {"datum": 880.618}, "y": {"datum": -1.496}, "y2": {"datum": 22.436}}},
    {"data": {"values": [{}]}, "mark": {"type": "text", "font": "Noto Sans CJK SC", "fontWeight": "bold", "fontSize": 16, "fill": "white", "stroke": "white", "strokeWidth": 3, "strokeJoin": "round"}, "encoding": {"x": {"datum": 432.7}, "y": {"datum": 17.02}, "text": {"value": "[1]\u00a0\u00a09655. 913\u00a0\u00a0μm²"}}},
    {"data": {"values": [{}]}, "mark": {"type": "text", "font": "Noto Sans CJK SC", "fontWeight": "bold", "fontSize": 16, "fill": "#2b2b2b"}, "encoding": {"x": {"datum": 432.7}, "y": {"datum": 17.02}, "text": {"value": "[1]\u00a0\u00a09655. 913\u00a0\u00a0μm²"}}},
    {"data": {"values": [{}]}, "mark": {"type": "text", "fontSize": 7, "fill": "#bbbbbb", "align": "left", "clip": true}, "encoding": {"x": {"datum": 17.1}, "y": {"datum": 23.47}, "text": {"value": "μm"}}},
    {"data": {"values": [{}]}, "mark": {"type": "text", "fontSize": 7, "fill": "#bbbbbb", "align": "left", "clip": true}, "encoding": {"x": {"datum": 903.5}, "y": {"datum": 0}, "text": {"value": "μm"}}},
    {"data": {"values": [{}]}, "mark": {"type": "rect", "fill": "white", "stroke": "#333333", "strokeWidth": 1, "clip": true}, "encoding": {"x": {"datum": 808.0}, "x2": {"datum": 916.6}, "y": {"datum": 19.771}, "y2": {"datum": 24.757}}},
    {"data": {"values": [{}]}, "mark": {"type": "text", "font": "Liberation Serif", "fontWeight": "bold", "fontSize": 24, "fill": "black", "clip": true}, "encoding": {"x": {"datum": 862.3}, "y": {"datum": 22.264}, "text": {"value": "(b)"}}}
   ]},
  {"width": 400, "height": 218, "view": {"fill": "black", "stroke": null},
   "layer": [
    {"data": {"name": "rc"}, "transform": [{"filter": "datum.in"}], "mark": {"type": "area", "color": "#ffff00"},
     "encoding": {"x": {"field": "x", "type": "quantitative", "scale": {"domain": [-190.88, 721.34], "nice": false, "zero": false}, "axis": {"values": [0,100,200,300,400,500,600], "offset": -57.7, "labelExpr": "replace(format(datum.value,'.2f'),'.','. ')", "title": "Wear width (μm)", "titleX": 205.3, "titleY": 42.7}},
      "y": {"field": "y", "type": "quantitative", "scale": {"domain": [-5.212, 12.004], "nice": false, "zero": false}, "axis": {"values": [0,5,10.33], "offset": -83.7, "labelExpr": "replace(format(datum.value,'.2f'),'.','. ')", "title": "Wear·depth·(μm)", "titleX": -66.7, "titleY": 98}},
      "y2": {"datum": -0.655}}},
    {"data": {"name": "pc"}, "mark": {"type": "area", "color": "black"}, "encoding": {"x": {"field": "x", "type": "quantitative"}, "y": {"field": "y", "type": "quantitative"}, "y2": {"datum": -0.655}}},
    {"data": {"values": [{}]}, "mark": {"type": "rule", "color": "#a0a0a0", "strokeDash": [5,4], "strokeWidth": 1}, "encoding": {"x": {"datum": 0}, "x2": {"datum": 703.1}, "y": {"datum": 0}}},
    {"data": {"name": "rc"}, "transform": [{"filter": "datum.in"}], "mark": {"type": "rule", "color": "#ff1a1a", "strokeWidth": 2.5, "strokeDash": [7,4]}, "encoding": {"x": {"field": "x", "type": "quantitative"}, "y": {"datum": -0.655}, "y2": {"datum": 10.33}}},
    {"data": {"name": "rc"}, "mark": {"type": "line", "color": "#ff0000", "strokeWidth": 3}, "encoding": {"x": {"field": "x", "type": "quantitative"}, "y": {"field": "y", "type": "quantitative"}}},
    {"data": {"name": "pc"}, "mark": {"type": "line", "color": "#22e3dc", "strokeWidth": 1.3}, "encoding": {"x": {"field": "x", "type": "quantitative"}, "y": {"field": "y", "type": "quantitative"}}},
    {"data": {"values": [{}]}, "mark": {"type": "rect", "filled": false, "stroke": "#c8c8c8", "strokeWidth": 1}, "encoding": {"x": {"datum": 0}, "x2": {"datum": 703.1}, "y": {"datum": -0.655}, "y2": {"datum": 10.33}}},
    {"data": {"values": [{}]}, "mark": {"type": "text", "font": "Noto Sans CJK SC", "fontWeight": "bold", "fontSize": 16, "fill": "white", "stroke": "white", "strokeWidth": 3, "strokeJoin": "round"}, "encoding": {"x": {"datum": 358.7}, "y": {"datum": 6.63}, "text": {"value": "[1]\u00a0\u00a02, 540. 46\u00a0\u00a0μm²"}}},
    {"data": {"values": [{}]}, "mark": {"type": "text", "font": "Noto Sans CJK SC", "fontWeight": "bold", "fontSize": 16, "fill": "#2b2b2b"}, "encoding": {"x": {"datum": 358.7}, "y": {"datum": 6.63}, "text": {"value": "[1]\u00a0\u00a02, 540. 46\u00a0\u00a0μm²"}}},
    {"data": {"values": [{}]}, "mark": {"type": "text", "fontSize": 7, "fill": "#bbbbbb", "align": "left", "clip": true}, "encoding": {"x": {"datum": 13.7}, "y": {"datum": 10.8}, "text": {"value": "μm"}}},
    {"data": {"values": [{}]}, "mark": {"type": "text", "fontSize": 7, "fill": "#bbbbbb", "align": "left", "clip": true}, "encoding": {"x": {"datum": 718}, "y": {"datum": 0}, "text": {"value": "μm"}}},
    {"data": {"values": [{}]}, "mark": {"type": "text", "font": "Noto Sans CJK SC", "fontSize": 9.5, "fill": "#c8c8c8", "clip": true}, "encoding": {"x": {"datum": 703.1}, "y": {"datum": -1.8}, "text": {"value": "703. 10"}}},
    {"data": {"values": [{}]}, "mark": {"type": "rect", "fill": "white", "stroke": "#333333", "strokeWidth": 1, "clip": true}, "encoding": {"x": {"datum": 650.6}, "x2": {"datum": 760.1}, "y": {"datum": 9.24}, "y2": {"datum": 11.136}}},
    {"data": {"values": [{}]}, "mark": {"type": "text", "font": "Liberation Serif", "fontWeight": "bold", "fontSize": 24, "fill": "black", "clip": true}, "encoding": {"x": {"datum": 696.3}, "y": {"datum": 10.188}, "text": {"value": "(c)"}}}
   ]}
 ], "spacing": 6, "bounds": "flush"},
{"hconcat": [
  {"width": 412, "height": 216, "view": {"fill": "black", "stroke": null},
   "layer": [
    {"data": {"name": "rd"}, "transform": [{"filter": "datum.in"}], "mark": {"type": "area", "color": "#ffff00"},
     "encoding": {"x": {"field": "x", "type": "quantitative", "scale": {"domain": [-213.22, 838.83], "nice": false, "zero": false}, "axis": {"values": [0,100,300,500,776.274], "offset": -58.3, "labelExpr": "replace(format(datum.value,'.3f'),'.','. ')", "title": "Wear width (μm)", "titleX": 205, "titleY": 44}},
      "y": {"field": "y", "type": "quantitative", "scale": {"domain": [-3.606, 8.072], "nice": false, "zero": false}, "axis": {"values": [0,1,3,5,7.034], "offset": -83.5, "labelExpr": "replace(format(datum.value,'.3f'),'.','. ')", "title": "Wear·depth·(μm)", "titleX": -65.2, "titleY": 96}},
      "y2": {"datum": -0.454}}},
    {"data": {"name": "pd"}, "mark": {"type": "area", "color": "black"}, "encoding": {"x": {"field": "x", "type": "quantitative"}, "y": {"field": "y", "type": "quantitative"}, "y2": {"datum": -0.454}}},
    {"data": {"values": [{}]}, "mark": {"type": "rule", "color": "#a0a0a0", "strokeDash": [5,4], "strokeWidth": 1}, "encoding": {"x": {"datum": 0}, "x2": {"datum": 776.274}, "y": {"datum": 0}}},
    {"data": {"name": "rd"}, "transform": [{"filter": "datum.in"}], "mark": {"type": "rule", "color": "#ff1a1a", "strokeWidth": 2.5, "strokeDash": [7,4]}, "encoding": {"x": {"field": "x", "type": "quantitative"}, "y": {"datum": -0.454}, "y2": {"datum": 7.034}}},
    {"data": {"name": "rd"}, "mark": {"type": "line", "color": "#ff0000", "strokeWidth": 3}, "encoding": {"x": {"field": "x", "type": "quantitative"}, "y": {"field": "y", "type": "quantitative"}}},
    {"data": {"name": "pd"}, "mark": {"type": "line", "color": "#22e3dc", "strokeWidth": 1.3}, "encoding": {"x": {"field": "x", "type": "quantitative"}, "y": {"field": "y", "type": "quantitative"}}},
    {"data": {"values": [{}]}, "mark": {"type": "rect", "filled": false, "stroke": "#c8c8c8", "strokeWidth": 1}, "encoding": {"x": {"datum": 0}, "x2": {"datum": 776.274}, "y": {"datum": -0.454}, "y2": {"datum": 7.034}}},
    {"data": {"values": [{}]}, "mark": {"type": "text", "font": "Noto Sans CJK SC", "fontWeight": "bold", "fontSize": 16, "fill": "white", "stroke": "white", "strokeWidth": 3, "strokeJoin": "round"}, "encoding": {"x": {"datum": 404}, "y": {"datum": 5.1}, "text": {"value": "[1]\u00a0\u00a02474. 699\u00a0\u00a0μm²"}}},
    {"data": {"values": [{}]}, "mark": {"type": "text", "font": "Noto Sans CJK SC", "fontWeight": "bold", "fontSize": 16, "fill": "#2b2b2b"}, "encoding": {"x": {"datum": 404}, "y": {"datum": 5.1}, "text": {"value": "[1]\u00a0\u00a02474. 699\u00a0\u00a0μm²"}}},
    {"data": {"values": [{}]}, "mark": {"type": "text", "fontSize": 7, "fill": "#bbbbbb", "align": "left", "clip": true}, "encoding": {"x": {"datum": 15.3}, "y": {"datum": 7.36}, "text": {"value": "μm"}}},
    {"data": {"values": [{}]}, "mark": {"type": "text", "fontSize": 7, "fill": "#bbbbbb", "align": "left", "clip": true}, "encoding": {"x": {"datum": 796.7}, "y": {"datum": 0}, "text": {"value": "μm"}}},
    {"data": {"values": [{}]}, "mark": {"type": "rect", "fill": "white", "stroke": "#333333", "strokeWidth": 1, "clip": true}, "encoding": {"x": {"datum": 721.4}, "x2": {"datum": 821.0}, "y": {"datum": 6.396}, "y2": {"datum": 7.694}}},
    {"data": {"values": [{}]}, "mark": {"type": "text", "font": "Liberation Serif", "fontWeight": "bold", "fontSize": 24, "fill": "black", "clip": true}, "encoding": {"x": {"datum": 771.2}, "y": {"datum": 7.045}, "text": {"value": "(d)"}}}
   ]},
  {"width": 400, "height": 216, "view": {"fill": "black", "stroke": null},
   "layer": [
    {"data": {"name": "re"}, "transform": [{"filter": "datum.in"}], "mark": {"type": "area", "color": "#ffff00"},
     "encoding": {"x": {"field": "x", "type": "quantitative", "scale": {"domain": [-172.97, 653.64], "nice": false, "zero": false}, "axis": {"values": [0,100,200,300,400,500], "offset": -57, "labelExpr": "replace(format(datum.value,'.2f'),'.','. ')", "title": "Wear width (μm)", "titleX": 205, "titleY": 42.7}},
      "y": {"field": "y", "type": "quantitative", "scale": {"domain": [-4.192, 10.023], "nice": false, "zero": false}, "axis": {"values": [0,1,3,5,7,8.7], "offset": -83.7, "labelExpr": "replace(format(datum.value,'.2f'),'.','. ')", "title": "Wear·depth·(μm)", "titleX": -66.7, "titleY": 100}},
      "y2": {"datum": -0.441}}},
    {"data": {"name": "pe"}, "mark": {"type": "area", "color": "black"}, "encoding": {"x": {"field": "x", "type": "quantitative"}, "y": {"field": "y", "type": "quantitative"}, "y2": {"datum": -0.441}}},
    {"data": {"values": [{}]}, "mark": {"type": "rule", "color": "#a0a0a0", "strokeDash": [5,4], "strokeWidth": 1}, "encoding": {"x": {"datum": 0}, "x2": {"datum": 637.1}, "y": {"datum": 0}}},
    {"data": {"name": "re"}, "transform": [{"filter": "datum.in"}], "mark": {"type": "rule", "color": "#ff1a1a", "strokeWidth": 2.5, "strokeDash": [7,4]}, "encoding": {"x": {"field": "x", "type": "quantitative"}, "y": {"datum": -0.441}, "y2": {"datum": 8.7}}},
    {"data": {"name": "re"}, "mark": {"type": "line", "color": "#ff0000", "strokeWidth": 3}, "encoding": {"x": {"field": "x", "type": "quantitative"}, "y": {"field": "y", "type": "quantitative"}}},
    {"data": {"name": "pe"}, "mark": {"type": "line", "color": "#22e3dc", "strokeWidth": 1.3}, "encoding": {"x": {"field": "x", "type": "quantitative"}, "y": {"field": "y", "type": "quantitative"}}},
    {"data": {"values": [{}]}, "mark": {"type": "rect", "filled": false, "stroke": "#c8c8c8", "strokeWidth": 1}, "encoding": {"x": {"datum": 0}, "x2": {"datum": 637.1}, "y": {"datum": -0.441}, "y2": {"datum": 8.7}}},
    {"data": {"values": [{}]}, "mark": {"type": "text", "font": "Noto Sans CJK SC", "fontWeight": "bold", "fontSize": 16, "fill": "white", "stroke": "white", "strokeWidth": 3, "strokeJoin": "round"}, "encoding": {"x": {"datum": 465}, "y": {"datum": 6.73}, "text": {"value": "[1]\u00a0\u00a01, 258. 31\u00a0\u00a0μm²"}}},
    {"data": {"values": [{}]}, "mark": {"type": "text", "font": "Noto Sans CJK SC", "fontWeight": "bold", "fontSize": 16, "fill": "#2b2b2b"}, "encoding": {"x": {"datum": 465}, "y": {"datum": 6.73}, "text": {"value": "[1]\u00a0\u00a01, 258. 31\u00a0\u00a0μm²"}}},
    {"data": {"values": [{}]}, "mark": {"type": "text", "fontSize": 7, "fill": "#bbbbbb", "align": "left", "clip": true}, "encoding": {"x": {"datum": 12.4}, "y": {"datum": 9.09}, "text": {"value": "μm"}}},
    {"data": {"values": [{}]}, "mark": {"type": "text", "fontSize": 7, "fill": "#bbbbbb", "align": "left", "clip": true}, "encoding": {"x": {"datum": 650}, "y": {"datum": 0}, "text": {"value": "μm"}}},
    {"data": {"values": [{}]}, "mark": {"type": "text", "font": "Noto Sans CJK SC", "fontSize": 9.5, "fill": "#c8c8c8", "clip": true}, "encoding": {"x": {"datum": 637.1}, "y": {"datum": -1.395}, "text": {"value": "637. 10"}}},
    {"data": {"values": [{}]}, "mark": {"type": "rect", "fill": "white", "stroke": "#333333", "strokeWidth": 1, "clip": true}, "encoding": {"x": {"datum": 585.4}, "x2": {"datum": 688.8}, "y": {"datum": 7.851}, "y2": {"datum": 9.365}}},
    {"data": {"values": [{}]}, "mark": {"type": "text", "font": "Liberation Serif", "fontWeight": "bold", "fontSize": 24, "fill": "black", "clip": true}, "encoding": {"x": {"datum": 626.8}, "y": {"datum": 8.608}, "text": {"value": "(e)"}}}
   ]}
 ], "spacing": 6, "bounds": "flush"},
{"hconcat": [
  {"width": 412, "height": 214, "view": {"fill": "black", "stroke": null},
   "layer": [
    {"data": {"name": "rf"}, "transform": [{"filter": "datum.in"}], "mark": {"type": "area", "color": "#ffff00"},
     "encoding": {"x": {"field": "x", "type": "quantitative", "scale": {"domain": [-211.77, 878.85], "nice": false, "zero": false}, "axis": {"values": [0,100,300,500,700,807.375], "offset": -55.7, "labelExpr": "replace(format(datum.value,'.3f'),'.','. ')", "title": "Wear width (μm)", "titleX": 205, "titleY": 44}},
      "y": {"field": "y", "type": "quantitative", "scale": {"domain": [-9.044, 21.531], "nice": false, "zero": false}, "axis": {"values": [0,5,10,15,18.631], "offset": -80, "labelExpr": "replace(format(datum.value,'.3f'),'.','. ')", "title": "Wear·depth·(μm)", "titleX": -61.7, "titleY": 97}},
      "y2": {"datum": -1.086}}},
    {"data": {"name": "pf"}, "mark": {"type": "area", "color": "black"}, "encoding": {"x": {"field": "x", "type": "quantitative"}, "y": {"field": "y", "type": "quantitative"}, "y2": {"datum": -1.086}}},
    {"data": {"values": [{}]}, "mark": {"type": "rule", "color": "#a0a0a0", "strokeDash": [5,4], "strokeWidth": 1}, "encoding": {"x": {"datum": 0}, "x2": {"datum": 807.375}, "y": {"datum": 0}}},
    {"data": {"name": "rf"}, "transform": [{"filter": "datum.in"}], "mark": {"type": "rule", "color": "#ff1a1a", "strokeWidth": 2.5, "strokeDash": [7,4]}, "encoding": {"x": {"field": "x", "type": "quantitative"}, "y": {"datum": -1.086}, "y2": {"datum": 18.631}}},
    {"data": {"name": "rf"}, "mark": {"type": "line", "color": "#ff0000", "strokeWidth": 3}, "encoding": {"x": {"field": "x", "type": "quantitative"}, "y": {"field": "y", "type": "quantitative"}}},
    {"data": {"name": "pf"}, "mark": {"type": "line", "color": "#22e3dc", "strokeWidth": 1.3}, "encoding": {"x": {"field": "x", "type": "quantitative"}, "y": {"field": "y", "type": "quantitative"}}},
    {"data": {"values": [{}]}, "mark": {"type": "rect", "filled": false, "stroke": "#c8c8c8", "strokeWidth": 1}, "encoding": {"x": {"datum": 0}, "x2": {"datum": 807.375}, "y": {"datum": -1.086}, "y2": {"datum": 18.631}}},
    {"data": {"values": [{}]}, "mark": {"type": "text", "font": "Noto Sans CJK SC", "fontWeight": "bold", "fontSize": 16, "fill": "white", "stroke": "white", "strokeWidth": 3, "strokeJoin": "round"}, "encoding": {"x": {"datum": 390}, "y": {"datum": 13.49}, "text": {"value": "[1]\u00a0\u00a06992. 761\u00a0\u00a0μm²"}}},
    {"data": {"values": [{}]}, "mark": {"type": "text", "font": "Noto Sans CJK SC", "fontWeight": "bold", "fontSize": 16, "fill": "#2b2b2b"}, "encoding": {"x": {"datum": 390}, "y": {"datum": 13.49}, "text": {"value": "[1]\u00a0\u00a06992. 761\u00a0\u00a0μm²"}}},
    {"data": {"values": [{}]}, "mark": {"type": "text", "fontSize": 7, "fill": "#bbbbbb", "align": "left", "clip": true}, "encoding": {"x": {"datum": 15.9}, "y": {"datum": 19.49}, "text": {"value": "μm"}}},
    {"data": {"values": [{}]}, "mark": {"type": "text", "fontSize": 7, "fill": "#bbbbbb", "align": "left", "clip": true}, "encoding": {"x": {"datum": 828.6}, "y": {"datum": 0}, "text": {"value": "μm"}}},
    {"data": {"values": [{}]}, "mark": {"type": "rect", "fill": "white", "stroke": "#333333", "strokeWidth": 1, "clip": true}, "encoding": {"x": {"datum": 749.1}, "x2": {"datum": 855.0}, "y": {"datum": 16.674}, "y2": {"datum": 20.388}}},
    {"data": {"values": [{}]}, "mark": {"type": "text", "font": "Liberation Serif", "fontWeight": "bold", "fontSize": 24, "fill": "black", "clip": true}, "encoding": {"x": {"datum": 802.1}, "y": {"datum": 18.531}, "text": {"value": "(f)"}}}
   ]},
  {"width": 400, "height": 214, "view": {"fill": "black", "stroke": null},
   "layer": [
    {"data": {"name": "rg"}, "transform": [{"filter": "datum.in"}], "mark": {"type": "area", "color": "#ffff00"},
     "encoding": {"x": {"field": "x", "type": "quantitative", "scale": {"domain": [-165.74, 652.73], "nice": false, "zero": false}, "axis": {"values": [0,100,200,300,400,500], "offset": -55.7, "labelExpr": "replace(format(datum.value,'.2f'),'.','. ')", "title": "Wear width (μm)", "titleX": 205.3, "titleY": 42.4}},
      "y": {"field": "y", "type": "quantitative", "scale": {"domain": [-2.075, 4.939], "nice": false, "zero": false}, "axis": {"values": [0,1,2,3,4.3], "offset": -81, "labelExpr": "replace(format(datum.value,'.2f'),'.','. ')", "title": "Wear·depth·(μm)", "titleX": -64, "titleY": 97}},
      "y2": {"datum": -0.249}}},
    {"data": {"name": "pg"}, "mark": {"type": "area", "color": "black"}, "encoding": {"x": {"field": "x", "type": "quantitative"}, "y": {"field": "y", "type": "quantitative"}, "y2": {"datum": -0.249}}},
    {"data": {"values": [{}]}, "mark": {"type": "rule", "color": "#a0a0a0", "strokeDash": [5,4], "strokeWidth": 1}, "encoding": {"x": {"datum": 0}, "x2": {"datum": 627.98}, "y": {"datum": 0}}},
    {"data": {"name": "rg"}, "transform": [{"filter": "datum.in"}], "mark": {"type": "rule", "color": "#ff1a1a", "strokeWidth": 2.5, "strokeDash": [7,4]}, "encoding": {"x": {"field": "x", "type": "quantitative"}, "y": {"datum": -0.249}, "y2": {"datum": 4.3}}},
    {"data": {"name": "rg"}, "mark": {"type": "line", "color": "#ff0000", "strokeWidth": 3}, "encoding": {"x": {"field": "x", "type": "quantitative"}, "y": {"field": "y", "type": "quantitative"}}},
    {"data": {"name": "pg"}, "mark": {"type": "line", "color": "#22e3dc", "strokeWidth": 1.3}, "encoding": {"x": {"field": "x", "type": "quantitative"}, "y": {"field": "y", "type": "quantitative"}}},
    {"data": {"values": [{}]}, "mark": {"type": "rect", "filled": false, "stroke": "#c8c8c8", "strokeWidth": 1}, "encoding": {"x": {"datum": 0}, "x2": {"datum": 627.98}, "y": {"datum": -0.249}, "y2": {"datum": 4.3}}},
    {"data": {"values": [{}]}, "mark": {"type": "text", "font": "Noto Sans CJK SC", "fontWeight": "bold", "fontSize": 16, "fill": "white", "stroke": "white", "strokeWidth": 3, "strokeJoin": "round"}, "encoding": {"x": {"datum": 315.7}, "y": {"datum": 3.28}, "text": {"value": "[1]\u00a0\u00a0595. 67\u00a0\u00a0μm²"}}},
    {"data": {"values": [{}]}, "mark": {"type": "text", "font": "Noto Sans CJK SC", "fontWeight": "bold", "fontSize": 16, "fill": "#2b2b2b"}, "encoding": {"x": {"datum": 315.7}, "y": {"datum": 3.28}, "text": {"value": "[1]\u00a0\u00a0595. 67\u00a0\u00a0μm²"}}},
    {"data": {"values": [{}]}, "mark": {"type": "text", "fontSize": 7, "fill": "#bbbbbb", "align": "left", "clip": true}, "encoding": {"x": {"datum": 12.3}, "y": {"datum": 4.5}, "text": {"value": "μm"}}},
    {"data": {"values": [{}]}, "mark": {"type": "text", "fontSize": 7, "fill": "#bbbbbb", "align": "left", "clip": true}, "encoding": {"x": {"datum": 644.4}, "y": {"datum": 0}, "text": {"value": "μm"}}},
    {"data": {"values": [{}]}, "mark": {"type": "text", "font": "Noto Sans CJK SC", "fontSize": 9.5, "fill": "#c8c8c8", "clip": true}, "encoding": {"x": {"datum": 627.98}, "y": {"datum": -0.724}, "text": {"value": "627. 98"}}},
    {"data": {"values": [{}]}, "mark": {"type": "rect", "fill": "white", "stroke": "#333333", "strokeWidth": 1, "clip": true}, "encoding": {"x": {"datum": 579.1}, "x2": {"datum": 687.5}, "y": {"datum": 3.825}, "y2": {"datum": 4.677}}},
    {"data": {"values": [{}]}, "mark": {"type": "text", "font": "Liberation Serif", "fontWeight": "bold", "fontSize": 24, "fill": "black", "clip": true}, "encoding": {"x": {"datum": 620.0}, "y": {"datum": 4.251}, "text": {"value": "(g)"}}}
   ]}
 ], "spacing": 6, "bounds": "flush"}
]
}
